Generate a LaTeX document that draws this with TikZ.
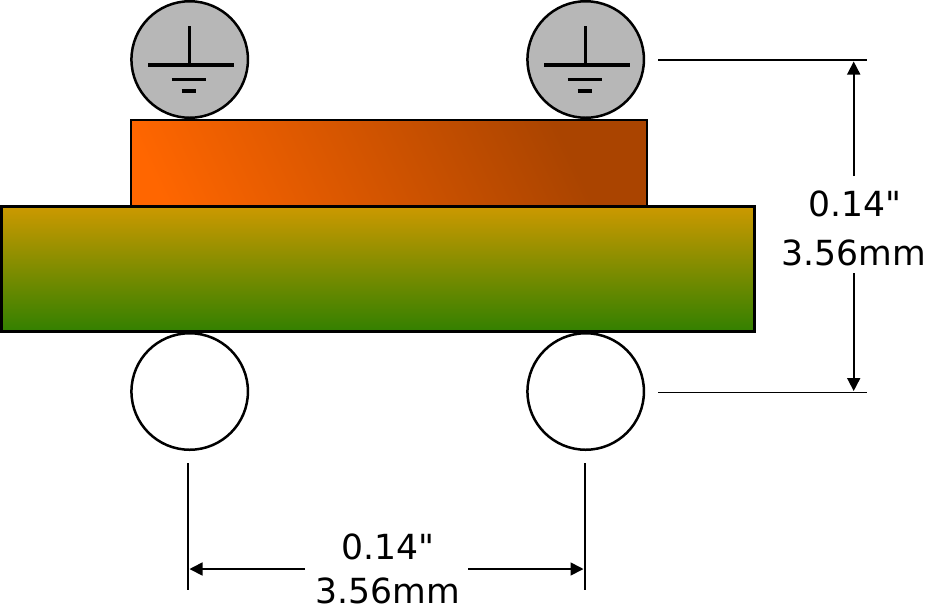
\documentclass[tikz,border=0pt]{standalone}
\usepackage{fontspec}
\newfontfamily\dimfont{DejaVu Sans}
\usetikzlibrary{arrows.meta}
\definecolor{plategray}{RGB}{183,183,183}
\definecolor{orangehi}{RGB}{255,102,0}
\definecolor{orangelo}{RGB}{170,68,0}
\pgfdeclarehorizontalshading{orangeboard}{100bp}{color(0bp)=(orangehi); color(36.25bp)=(orangehi); color(60.5bp)=(orangelo); color(100bp)=(orangelo)}
\tikzset{
  pin/.style={circle,draw=black,line width=1.25pt,minimum size=58.25pt,inner sep=0pt},
  groundline/.style={line width=1.65pt},
  dimline/.style={line width=0.85pt,black},
  dimarrow/.style={line width=0.85pt,black,-{Triangle[length=6.5pt,width=6.5pt]}},
  dimtext/.style={font=\dimfont\fontsize{17.3}{20}\selectfont,inner sep=0pt,text=black,anchor=base},
}
\begin{document}
\begin{tikzpicture}[x=0.5pt,y=-0.5pt]
\useasboundingbox (0,0) rectangle (925,606);
% boards
\node[inner sep=0pt,outer sep=0pt,minimum width=258pt,minimum height=43pt] (top) at (388.7,163) {};
\begin{scope}
  \clip (top.south west) rectangle (top.north east);
  \shade[shading=orangeboard,shading angle=25] ([shift={(-400,-400)}]top.center) rectangle ([shift={(400,400)}]top.center);
\end{scope}
\draw[black,line width=1.1pt] (top.south west) rectangle (top.north east);
\node[draw=black,line width=1.6pt,inner sep=0pt,minimum width=376.5pt,minimum height=62.5pt,
  top color={rgb,255:red,204;green,153;blue,0},bottom color={rgb,255:red,51;green,128;blue,0}] (mid) at (378,268.8) {};
% pins
\node[pin,fill=plategray] (g1) at (189.7,59.5) {};
\node[pin,fill=plategray] (g2) at (585.7,59.5) {};
\node[pin,fill=white] (w1) at (189.7,391.5) {};
\node[pin,fill=white] (w2) at (585.7,391.5) {};
% ground symbols
\foreach \n in {g1,g2}{
  \draw[groundline] ([shift={(-0.4,-33.5)}]\n.center) -- ([shift={(-0.4,5.5)}]\n.center);
  \draw[groundline] ([shift={(-41.7,5.5)}]\n.center) -- ([shift={(44.3,5.5)}]\n.center);
  \draw[groundline] ([shift={(-18,19.8)}]\n.center) -- ([shift={(16.3,19.8)}]\n.center);
  \draw[groundline] ([shift={(-8,31.5)}]\n.center) -- ([shift={(6.3,31.5)}]\n.center);
}
% dimension text
\node[dimtext] (va) at (855,216) {0.14"};
\node[dimtext] (vb) at (854,265) {3.56mm};
\node[dimtext] (ha) at (388,559) {0.14"};
\node[dimtext] (hb) at (388,603.5) {3.56mm};
% witness lines and arrows
\coordinate (r1a) at (658,60); \coordinate (r1b) at (867,60);
\coordinate (r2a) at (658,392.5); \coordinate (r2b) at (867,392.5);
\coordinate (b1a) at (188,463); \coordinate (b1b) at (188,590);
\coordinate (b2a) at (585,463); \coordinate (b2b) at (585,590);
\coordinate (vt) at (853.7,176); \coordinate (vte) at (853.7,61.5);
\coordinate (vl) at (853.7,273); \coordinate (vle) at (853.7,391);
\coordinate (hl) at (305,569); \coordinate (hle) at (189.5,569);
\coordinate (hr) at (468,569); \coordinate (hre) at (583.5,569);
\draw[dimline] (r1a) -- (r1b);
\draw[dimline] (r2a) -- (r2b);
\draw[dimline] (b1a) -- (b1b);
\draw[dimline] (b2a) -- (b2b);
\draw[dimarrow] (vt) -- (vte);
\draw[dimarrow] (vl) -- (vle);
\draw[dimarrow] (hl) -- (hle);
\draw[dimarrow] (hr) -- (hre);
\end{tikzpicture}
\end{document}
